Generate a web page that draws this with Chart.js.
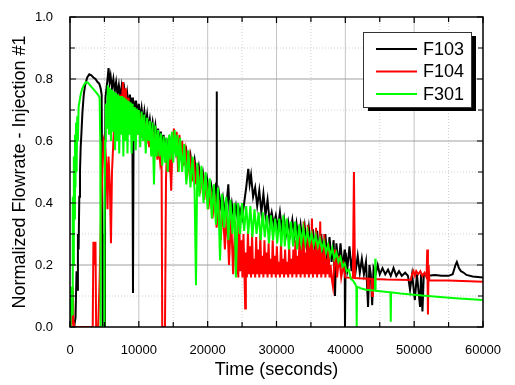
<!DOCTYPE html>
<html>
<head>
<meta charset="utf-8">
<script src="https://cdn.jsdelivr.net/npm/chart.js@4/dist/chart.umd.min.js"></script>
<style>
  body { margin: 0; background: #fff; }
  canvas { display: block; }
</style>
</head>
<body>
<canvas id="flowChart" width="515" height="385"></canvas>
<script>
'use strict';

// Series names and colours
const seriesNames = ['F103', 'F104', 'F301'];
const seriesColors = ['#000000', '#ff0000', '#00ff00'];

// Axis ticks
const xTicks = [0, 10000, 20000, 30000, 40000, 50000, 60000];
const yTicks = [0, 0.2, 0.4, 0.6, 0.8, 1.0];
const yTickLabels = ['0.0', '0.2', '0.4', '0.6', '0.8', '1.0'];

// [time (s), normalized flowrate]
const f103 = [
    [0,0],[600,0],[800,0.03],[950,0.18],[1050,0.12],[1150,0.3],[1250,0.25],[1350,0.42],[1450,0.5],[1550,0.58],
    [1650,0.62],[1800,0.69],[2000,0.75],[2200,0.78],[2500,0.805],[2800,0.815],[3100,0.812],[3400,0.805],[3700,0.8],[4000,0.79],
    [4250,0.785],[4450,0.77],[4600,0.75],[4700,0.3],[4750,0],[5000,0],[5080,0.4],[5150,0.74],[5300,0.77],[5450,0.8],
    [5600,0.835],[5750,0.79],[5900,0.81],[6100,0.77],[6300,0.8],[6500,0.76],[6700,0.79],[6900,0.75],[7100,0.78],[7300,0.74],
    [7500,0.775],[7700,0.73],[7900,0.765],[8100,0.72],[8300,0.755],[8500,0.71],[8700,0.75],[8900,0.7],[9050,0.74],[9150,0.11],
    [9250,0.73],[9400,0.69],[9600,0.73],[9800,0.68],[10000,0.72],[10200,0.67],[10400,0.705],[10600,0.66],[10800,0.695],[11000,0.65],
    [11200,0.685],[11400,0.64],[11600,0.67],[11800,0.63],[12000,0.66],[12200,0.62],[12400,0.65],[12600,0.6],[12800,0.64],[13000,0.59],
    [13200,0.63],[13400,0.58],[13600,0.62],[13800,0.57],[14000,0.61],[14200,0.56],[14500,0.605],[14800,0.57],[15100,0.6],[15400,0.56],
    [15700,0.595],[16000,0.55],[16300,0.585],[16600,0.54],[16900,0.57],[17200,0.52],[17500,0.555],[17800,0.5],[18100,0.54],[18400,0.49],
    [18700,0.52],[19000,0.47],[19300,0.5],[19600,0.45],[19900,0.48],[20200,0.43],[20500,0.46],[20800,0.42],[21100,0.45],[21250,0.42],
    [21300,0.76],[21350,0.41],[21600,0.44],[21900,0.39],[22200,0.42],[22500,0.37],[22800,0.41],[23000,0.46],[23200,0.36],[23500,0.4],
    [23800,0.35],[24100,0.39],[24400,0.34],[24700,0.38],[25000,0.35],[25300,0.4],[25600,0.45],[25900,0.51],[26100,0.46],[26300,0.49],
    [26600,0.42],[26900,0.45],[27200,0.39],[27500,0.44],[27800,0.37],[28100,0.43],[28400,0.36],[28700,0.41],[29000,0.34],[29300,0.37],
    [29600,0.33],[29900,0.36],[30200,0.32],[30500,0.37],[30800,0.31],[31100,0.35],[31400,0.3],[31700,0.34],[32000,0.3],[32300,0.345],
    [32600,0.29],[32900,0.335],[33200,0.28],[33500,0.33],[33800,0.27],[34100,0.325],[34400,0.26],[34700,0.32],[35000,0.25],[35300,0.315],
    [35600,0.24],[35900,0.31],[36200,0.23],[36500,0.3],[36800,0.22],[37100,0.3],[37400,0.21],[37700,0.29],[38000,0.21],[38300,0.28],
    [38500,0.1],[38700,0.27],[39000,0.2],[39300,0.27],[39600,0.19],[39900,0.25],[39950,0],[40050,0.24],[40300,0.19],[40600,0.26],
    [40900,0.18],[41200,0.25],[41500,0.18],[41800,0.23],[42100,0.175],[42400,0.22],[42700,0.17],[43000,0.21],[43300,0.065],[43500,0.2],
    [43700,0.17],[43900,0.07],[44100,0.19],[44400,0.17],[44700,0.2],[45000,0.17],[45400,0.19],[45800,0.17],[46200,0.185],[46600,0.165],
    [47000,0.19],[47400,0.165],[47800,0.18],[48200,0.165],[48700,0.175],[49100,0.165],[49400,0.12],[49700,0.17],[50100,0.087],[50400,0.17],
    [50860,0.065],[51000,0.17],[51200,0.05],[51400,0.17],[52000,0.165],[53000,0.168],[54000,0.165],[55000,0.165],[55600,0.17],[56000,0.2],
    [56200,0.21],[56500,0.19],[56800,0.18],[57200,0.175],[57600,0.168],[58500,0.163],[60000,0.16]
];

const f104 = [
    [0,0],[150,0.07],[250,0],[400,0.13],[500,0.02],[650,0],[3300,0],[3400,0.275],[3550,0.2],[3700,0.275],
    [3800,0],[4100,0],[4300,0.15],[4500,0.35],[4700,0.5],[4900,0.6],[5100,0.58],[5300,0.52],[5450,0.38],[5600,0.55],
    [5800,0.45],[5950,0.27],[6100,0.5],[6300,0.6],[6500,0.68],[6700,0.62],[6900,0.72],[7100,0.65],[7300,0.75],[7500,0.7],
    [7700,0.79],[7900,0.72],[8100,0.77],[8300,0.68],[8500,0.74],[8700,0.66],[8900,0.72],[9100,0.64],[9300,0.71],[9500,0.63],
    [9700,0.7],[9900,0.62],[10100,0.69],[10300,0.61],[10500,0.68],[10700,0.6],[10900,0.66],[11100,0.59],[11300,0.65],[11500,0.58],
    [11700,0.64],[11900,0.57],[12100,0.63],[12300,0.56],[12500,0.59],[12700,0.54],[12900,0.58],[13100,0.53],[13300,0.56],[13400,0],
    [13800,0],[13950,0.48],[14100,0.58],[14300,0.5],[14500,0.56],[14700,0.44],[14900,0.6],[15100,0.64],[15300,0.56],[15500,0.63],
    [15700,0.5],[15900,0.62],[16100,0.55],[16300,0.6],[16500,0.52],[16800,0.57],[17100,0.5],[17400,0.55],[17700,0.47],[18000,0.54],
    [18300,0.46],[18600,0.52],[18900,0.43],[19200,0.5],[19500,0.41],[19800,0.47],[20100,0.38],[20400,0.45],[20700,0.35],[21000,0.43],
    [21300,0.32],[21600,0.41],[21900,0.28],[22200,0.39],[22500,0.25],[22800,0.37],[23100,0.2],[23400,0.36],[23700,0.17],[24000,0.34],
    [24150,0.17],[24300,0.3],[24450,0.16],[24600,0.33],[24750,0.18],[24900,0.28],[25050,0.16],[25200,0.3],[25350,0.17],[25450,0.06],
    [25550,0.24],[25700,0.16],[25850,0.31],[26000,0.17],[26150,0.26],[26300,0.16],[26450,0.3],[26600,0.17],[26750,0.22],[26900,0.16],
    [27050,0.29],[27200,0.17],[27350,0.25],[27500,0.16],[27650,0.3],[27800,0.17],[27950,0.23],[28100,0.16],[28250,0.28],[28400,0.17],
    [28550,0.24],[28700,0.16],[28850,0.27],[29000,0.17],[29150,0.22],[29300,0.16],[29450,0.28],[29600,0.17],[29750,0.23],[29900,0.16],
    [30050,0.26],[30200,0.17],[30350,0.21],[30500,0.16],[30650,0.27],[30800,0.17],[30950,0.22],[31100,0.16],[31250,0.25],[31400,0.17],
    [31550,0.21],[31700,0.16],[31850,0.26],[32000,0.17],[32150,0.22],[32300,0.16],[32450,0.25],[32600,0.17],[32750,0.28],[32900,0.16],
    [33050,0.23],[33200,0.17],[33350,0.3],[33500,0.16],[33650,0.26],[33800,0.17],[33950,0.34],[34100,0.16],[34250,0.24],[34400,0.17],
    [34550,0.33],[34700,0.16],[34850,0.27],[35000,0.17],[35150,0.35],[35300,0.16],[35450,0.25],[35600,0.17],[35750,0.32],[35900,0.16],
    [36050,0.26],[36200,0.17],[36350,0.34],[36500,0.16],[36650,0.24],[36800,0.17],[36950,0.3],[37100,0.16],[37250,0.22],[37400,0.17],
    [37550,0.27],[37700,0.16],[37850,0.2],[38000,0.16],[38200,0.13],[38500,0.25],[38800,0.16],[39100,0.23],[39400,0.16],[39700,0.2],
    [40000,0.16],[41100,0.158],[41250,0.5],[41400,0.158],[42000,0.157],[43200,0.156],[43300,0.12],[43400,0.156],[43800,0.155],[43900,0.1],
    [44000,0.155],[46000,0.153],[49500,0.152],[49700,0.17],[49900,0.18],[50100,0.165],[50300,0.18],[50600,0.17],[50900,0.18],[51200,0.165],
    [51500,0.175],[51800,0.16],[51900,0.25],[52000,0.04],[52100,0.2],[52200,0.15],[55000,0.15],[60000,0.146]
];

const f301 = [
    [0,0],[100,0.02],[200,0.13],[300,0.04],[400,0.42],[480,0.2],[560,0.55],[640,0.35],[720,0.62],[800,0.45],
    [880,0.66],[960,0.5],[1050,0.68],[1150,0.6],[1250,0.71],[1400,0.73],[1600,0.755],[1800,0.77],[2000,0.78],[2300,0.79],
    [2600,0.788],[2900,0.78],[3200,0.772],[3500,0.765],[3800,0.757],[4100,0.748],[4300,0.74],[4400,0.6],[4450,0],[4950,0],
    [5000,0.3],[5100,0.6],[5200,0.72],[5350,0.64],[5500,0.78],[5650,0.62],[5800,0.77],[5950,0.6],[6100,0.765],[6250,0.63],
    [6400,0.76],[6550,0.57],[6700,0.755],[6850,0.6],[7000,0.75],[7150,0.56],[7300,0.745],[7450,0.62],[7600,0.745],[7750,0.55],
    [7900,0.74],[8050,0.6],[8200,0.735],[8350,0.56],[8500,0.73],[8650,0.62],[8800,0.725],[8950,0.56],[9100,0.72],[9250,0.6],
    [9400,0.71],[9550,0.57],[9700,0.705],[9850,0.62],[10000,0.7],[10200,0.58],[10400,0.695],[10600,0.6],[10800,0.685],[11000,0.56],
    [11200,0.675],[11400,0.6],[11600,0.665],[11800,0.55],[12000,0.66],[12200,0.46],[12400,0.65],[12600,0.55],[12800,0.635],[13000,0.55],
    [13200,0.625],[13400,0.52],[13600,0.615],[13800,0.53],[14000,0.61],[14200,0.5],[14400,0.62],[14600,0.54],[14800,0.63],[15000,0.53],
    [15200,0.635],[15400,0.55],[15600,0.62],[15800,0.5],[16000,0.61],[16300,0.5],[16600,0.59],[16900,0.46],[17200,0.57],[17500,0.45],
    [17800,0.55],[18100,0.44],[18300,0.135],[18500,0.53],[18800,0.42],[19100,0.52],[19400,0.4],[19700,0.5],[20000,0.38],[20300,0.48],
    [20600,0.35],[20900,0.46],[21200,0.33],[21500,0.45],[21800,0.215],[22100,0.43],[22400,0.32],[22700,0.42],[23000,0.28],[23300,0.41],
    [23600,0.3],[23900,0.4],[24100,0.16],[24400,0.4],[24700,0.3],[25000,0.4],[25300,0.31],[25600,0.39],[25900,0.3],[26200,0.39],
    [26500,0.29],[26800,0.38],[27100,0.3],[27400,0.37],[27700,0.28],[28000,0.37],[28300,0.29],[28600,0.36],[28900,0.27],[29200,0.36],
    [29500,0.28],[29800,0.35],[30100,0.27],[30400,0.35],[30700,0.26],[31000,0.36],[31200,0.26],[31500,0.35],[31800,0.25],[32100,0.34],
    [32400,0.26],[32700,0.34],[33000,0.25],[33300,0.33],[33600,0.27],[33900,0.32],[34200,0.27],[34500,0.31],[34800,0.27],[35100,0.3],
    [35400,0.265],[35700,0.295],[36000,0.26],[36300,0.285],[36600,0.25],[36900,0.275],[37200,0.24],[37500,0.265],[37800,0.23],[38100,0.255],
    [38400,0.22],[38700,0.24],[39000,0.21],[39300,0.225],[39600,0.195],[39900,0.205],[40200,0.18],[40500,0.185],[40800,0.155],[41100,0.15],
    [41400,0.14],[41600,0.13],[41650,0],[41700,0.13],[42200,0.125],[43000,0.12],[44300,0.117],[44350,0.22],[44400,0.117],[46550,0.112],
    [46600,0.017],[46650,0.112],[48000,0.108],[52000,0.1],[56000,0.093],[60000,0.087]
];

const seriesData = [f103, f104, f301];

const FONT = "'Liberation Sans', Arial, sans-serif";

// Grid lines (major solid, minor dotted), the frame with inward ticks, and the boxed legend
const frameAndLegend = {
    id: 'frameAndLegend',
    beforeDatasetsDraw(chart) {
        const {ctx, chartArea: a, scales: {x, y}} = chart;
        ctx.save();
        ctx.lineWidth = 1;
        for (let i = 0; i < xTicks.length - 1; i++) {
            const major = x.getPixelForValue(xTicks[i + 1]);
            const minor = x.getPixelForValue((xTicks[i] + xTicks[i + 1]) / 2);
            ctx.strokeStyle = '#d0d0d0';
            ctx.setLineDash([1, 2]);
            ctx.beginPath(); ctx.moveTo(minor, a.top); ctx.lineTo(minor, a.bottom); ctx.stroke();
            if (i < xTicks.length - 2) {
                ctx.strokeStyle = '#c4c4c4';
                ctx.setLineDash([]);
                ctx.beginPath(); ctx.moveTo(major, a.top); ctx.lineTo(major, a.bottom); ctx.stroke();
            }
        }
        for (let i = 0; i < yTicks.length - 1; i++) {
            const major = y.getPixelForValue(yTicks[i + 1]);
            const minor = y.getPixelForValue((yTicks[i] + yTicks[i + 1]) / 2);
            ctx.strokeStyle = '#d0d0d0';
            ctx.setLineDash([1, 2]);
            ctx.beginPath(); ctx.moveTo(a.left, minor); ctx.lineTo(a.right, minor); ctx.stroke();
            if (i < yTicks.length - 2) {
                ctx.strokeStyle = '#a0a0a0';
                ctx.setLineDash([]);
                ctx.beginPath(); ctx.moveTo(a.left, major); ctx.lineTo(a.right, major); ctx.stroke();
            }
        }
        ctx.restore();
    },
    afterDatasetsDraw(chart) {
        const {ctx, chartArea: a, scales: {x, y}} = chart;
        ctx.save();
        ctx.strokeStyle = '#000';
        ctx.lineWidth = 1.5;
        ctx.strokeRect(a.left, a.top, a.right - a.left, a.bottom - a.top);

        // inward ticks on all four sides
        ctx.lineWidth = 1.2;
        ctx.beginPath();
        for (let i = 0; i < xTicks.length; i++) {
            const px = x.getPixelForValue(xTicks[i]);
            ctx.moveTo(px, a.bottom); ctx.lineTo(px, a.bottom - 6);
            ctx.moveTo(px, a.top); ctx.lineTo(px, a.top + 6);
            if (i < xTicks.length - 1) {
                const mx = x.getPixelForValue((xTicks[i] + xTicks[i + 1]) / 2);
                ctx.moveTo(mx, a.bottom); ctx.lineTo(mx, a.bottom - 5);
                ctx.moveTo(mx, a.top); ctx.lineTo(mx, a.top + 5);
            }
        }
        for (let i = 0; i < yTicks.length; i++) {
            const py = y.getPixelForValue(yTicks[i]);
            ctx.moveTo(a.left, py); ctx.lineTo(a.left + 6, py);
            ctx.moveTo(a.right, py); ctx.lineTo(a.right - 6, py);
            if (i < yTicks.length - 1) {
                const my = y.getPixelForValue((yTicks[i] + yTicks[i + 1]) / 2);
                ctx.moveTo(a.left, my); ctx.lineTo(a.left + 5, my);
                ctx.moveTo(a.right, my); ctx.lineTo(a.right - 5, my);
            }
        }
        ctx.stroke();

        // legend box with drop shadow
        const bx = 363, by = 32, bw = 108, bh = 75;
        ctx.fillStyle = '#000';
        ctx.fillRect(bx + 5, by + 4, bw, bh);
        ctx.fillStyle = '#fff';
        ctx.fillRect(bx, by, bw, bh);
        ctx.lineWidth = 1;
        ctx.strokeStyle = '#333';
        ctx.strokeRect(bx + 0.5, by + 0.5, bw, bh);

        ctx.font = '18px ' + FONT;
        ctx.textBaseline = 'middle';
        ctx.textAlign = 'left';
        chart.data.datasets.forEach((ds, i) => {
            const ly = by + 17 + i * 22.5;
            ctx.strokeStyle = ds.borderColor;
            ctx.lineWidth = 2;
            ctx.beginPath(); ctx.moveTo(bx + 13, ly); ctx.lineTo(bx + 54, ly); ctx.stroke();
            ctx.fillStyle = '#000';
            ctx.fillText(ds.label, bx + 60, ly + 1);
        });
        ctx.restore();
    }
};

const ctx = document.getElementById('flowChart');
const flowChart = new Chart(ctx, {
    type: 'line',
    data: {
        datasets: seriesNames.map((name, i) => ({
            label: name,
            data: seriesData[i].map(p => ({x: p[0], y: p[1]})),
            borderColor: seriesColors[i],
            backgroundColor: seriesColors[i],
            borderWidth: 2,
            pointRadius: 0,
            tension: 0,
            // green on top, black underneath
            order: seriesNames.length - i
        }))
    },
    options: {
        responsive: false,
        animation: false,
        events: [],
        layout: {padding: {top: 17, right: 32, left: 0, bottom: 0}},
        plugins: {
            legend: {display: false},
            tooltip: {enabled: false}
        },
        scales: {
            x: {
                type: 'linear',
                min: 0,
                max: 60000,
                afterBuildTicks: scale => { scale.ticks = xTicks.map(v => ({value: v})); },
                afterFit: scale => { scale.height = 58; },
                grid: {display: false},
                border: {display: false},
                ticks: {
                    callback: v => String(v),
                    color: '#000',
                    padding: 8,
                    maxRotation: 0,
                    font: {family: FONT, size: 13}
                },
                title: {
                    display: true,
                    text: 'Time (seconds)',
                    color: '#000',
                    font: {family: FONT, size: 18},
                    padding: {top: 0, bottom: 4}
                }
            },
            y: {
                min: 0,
                max: 1.0,
                afterBuildTicks: scale => { scale.ticks = yTicks.map(v => ({value: v})); },
                afterFit: scale => { scale.width = 70; },
                grid: {display: false},
                border: {display: false},
                ticks: {
                    callback: (v, idx) => yTickLabels[idx],
                    color: '#000',
                    padding: 9,
                    font: {family: FONT, size: 13}
                },
                title: {
                    display: true,
                    text: 'Normalized Flowrate - Injection #1',
                    color: '#000',
                    font: {family: FONT, size: 18},
                    padding: {top: 9, bottom: 0}
                }
            }
        }
    },
    plugins: [frameAndLegend]
});
</script>
</body>
</html>
